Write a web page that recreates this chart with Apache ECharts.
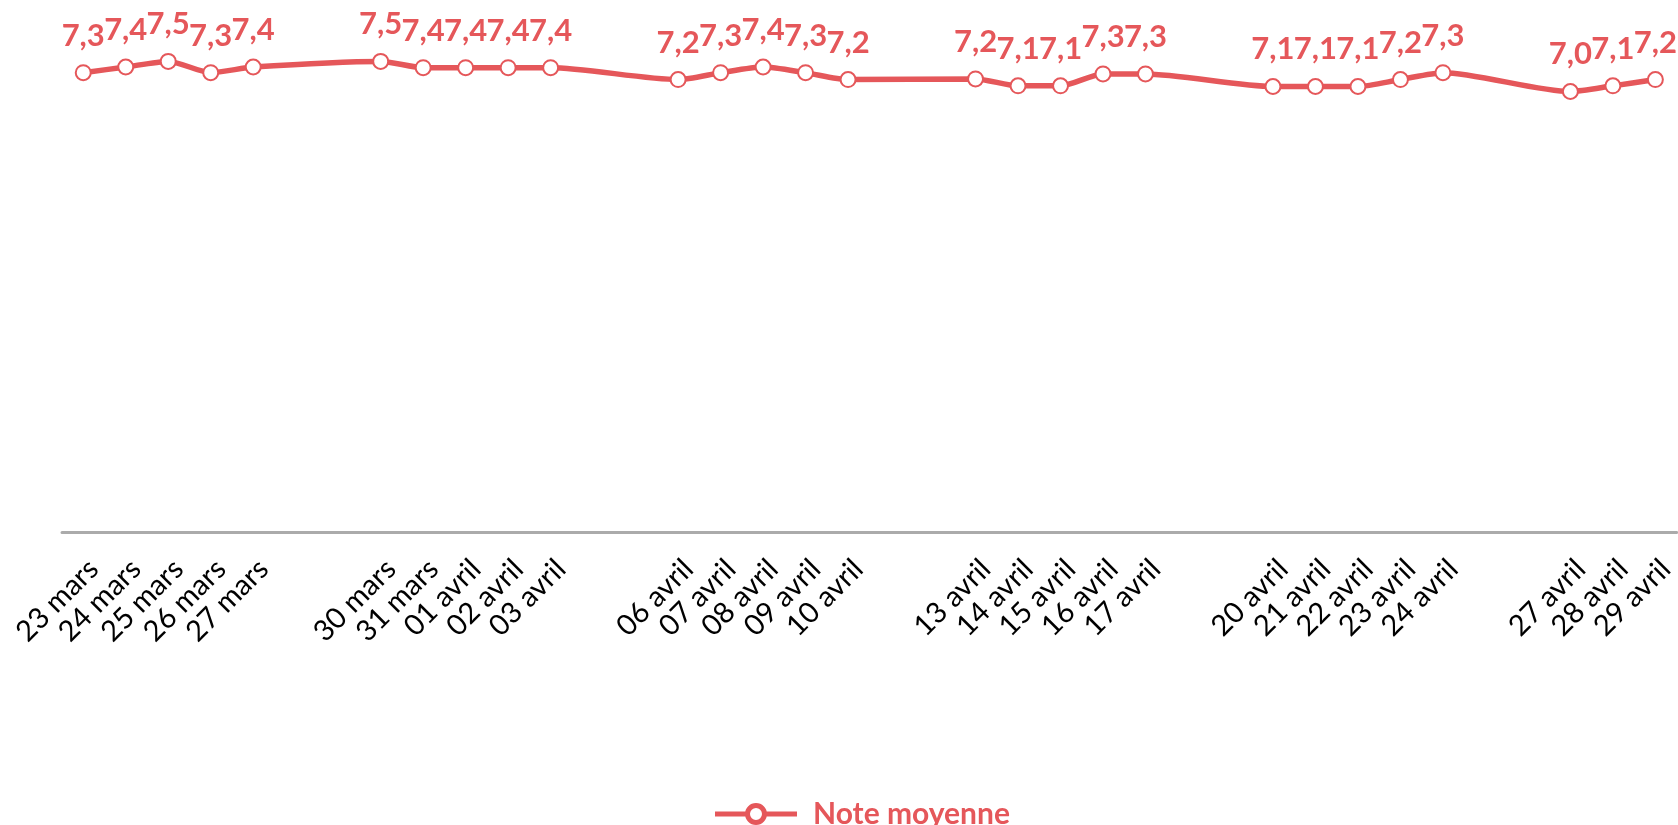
<!DOCTYPE html>
<html>
<head>
<meta charset="utf-8">
<script src="https://cdn.jsdelivr.net/npm/echarts@6/dist/echarts.min.js"></script>
<style>
html,body{margin:0;padding:0;background:#fff;}
#c{width:1678px;height:825px;}
</style>
</head>
<body>
<div id="c"></div>
<script>
// Days (weekends included as empty slots so spacing follows the calendar)
const days = [
  '23 mars','24 mars','25 mars','26 mars','27 mars','28 mars','29 mars',
  '30 mars','31 mars','01 avril','02 avril','03 avril','04 avril','05 avril',
  '06 avril','07 avril','08 avril','09 avril','10 avril','11 avril','12 avril',
  '13 avril','14 avril','15 avril','16 avril','17 avril','18 avril','19 avril',
  '20 avril','21 avril','22 avril','23 avril','24 avril','25 avril','26 avril',
  '27 avril','28 avril','29 avril'
];
// Average score; null = no data (weekend)
const noteMoyenne = [
  7.32, 7.41, 7.50, 7.32, 7.41, null, null,
  7.50, 7.40, 7.40, 7.40, 7.40, null, null,
  7.21, 7.32, 7.41, 7.32, 7.21, null, null,
  7.22, 7.11, 7.11, 7.30, 7.30, null, null,
  7.10, 7.10, 7.10, 7.21, 7.32, null, null,
  7.02, 7.11, 7.21
];
const seriesName = 'Note moyenne';

const RED = '#e5575a';
const legendIcon = 'path://M0 8.5 L31 8.5 L31 13.5 L0 13.5 Z M51 8.5 L82 8.5 L82 13.5 L51 13.5 Z ' +
  'M30 11 A11 11 0 1 1 52 11 A11 11 0 1 1 30 11 Z M35 11 A6 6 0 1 0 47 11 A6 6 0 1 0 35 11 Z';
const chart = echarts.init(document.getElementById('c'));
chart.setOption({
  animation: false,
  grid: { left: 62, right: 1, top: 30, bottom: 293, containLabel: false },
  legend: {
    data: [{ name: seriesName, icon: legendIcon }],
    left: 710, top: 794,
    itemWidth: 82, itemHeight: 22,
    itemStyle: { color: RED, borderWidth: 0 },
    textStyle: { color: RED, fontFamily: 'Lato', fontWeight: 'bold', fontSize: 30, padding: [0,0,0,11] }
  },
  xAxis: {
    type: 'category',
    data: days,
    boundaryGap: true,
    axisLine: { lineStyle: { color: '#ababab', width: 3 } },
    axisTick: { show: false },
    axisLabel: {
      interval: 0, rotate: 45, margin: 22,
      align: 'right', verticalAlign: 'top',
      color: '#000', fontFamily: 'Lato', fontSize: 29,
      formatter: function (v, i) { return noteMoyenne[i] == null ? '' : v; }
    },
    splitLine: { show: false }
  },
  yAxis: {
    type: 'value', min: 0, max: 8,
    show: false
  },
  series: [{
    name: seriesName,
    type: 'line',
    data: noteMoyenne,
    connectNulls: true,
    smooth: 0.25,
    symbol: 'emptyCircle',
    symbolSize: 15,
    lineStyle: { color: RED, width: 5.5 },
    itemStyle: { color: RED, borderColor: RED, borderWidth: 4 },
    label: {
      show: true, position: 'top', distance: 13,
      color: RED, fontFamily: 'Lato', fontWeight: 'bold', fontSize: 31,
      formatter: function (p) { return p.value.toFixed(1).replace('.', ','); }
    }
  }]
});
</script>
</body>
</html>
